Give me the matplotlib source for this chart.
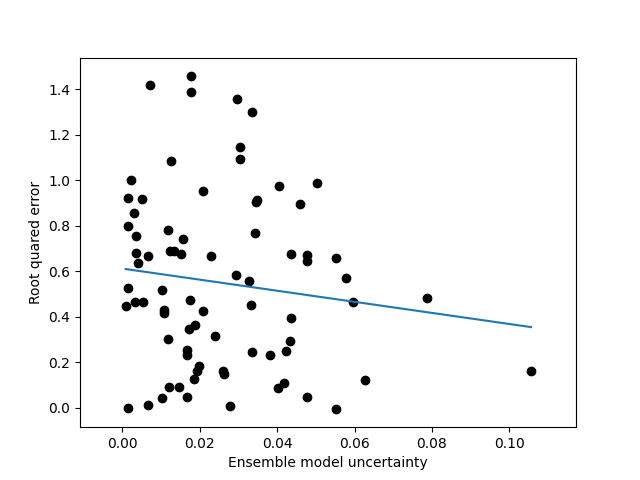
import matplotlib
matplotlib.use('Agg')
import matplotlib.pyplot as plt
import numpy as np

# ensemble uncertainty vs root squared error
uncertainty=[0.0073,0.0178,0.0178,0.0297,0.0335,0.0305,0.0305,0.0125,0.0022,0.0015,
             0.0050,0.0209,0.0406,0.0345,0.0349,0.0030,0.0015,0.0035,0.0117,0.0157,
             0.0344,0.0035,0.0066,0.0123,0.0135,0.0153,0.0230,0.0504,0.0460,0.0436,
             0.0478,0.0476,0.0551,0.0579,0.0595,0.0786,0.0436,0.0433,0.0423,0.0382,
             0.0418,0.0403,0.0477,0.0628,0.0553,0.1056,0.0040,0.0294,0.0328,0.0015,
             0.0103,0.0034,0.0053,0.0009,0.0175,0.0108,0.0108,0.0209,0.0333,0.0188,
             0.0173,0.0117,0.0239,0.0167,0.0167,0.0335,0.0199,0.0192,0.0186,0.0261,
             0.0262,0.0120,0.0146,0.0103,0.0167,0.0066,0.0279,0.0015]
error=[1.420,1.459,1.388,1.357,1.300,1.146,1.094,1.086,1.002,0.923,
       0.918,0.954,0.976,0.903,0.912,0.856,0.800,0.756,0.781,0.741,
       0.770,0.681,0.669,0.690,0.690,0.675,0.669,0.988,0.897,0.675,
       0.672,0.645,0.658,0.570,0.464,0.482,0.394,0.293,0.249,0.231,
       0.110,0.086,0.047,0.122,-0.006,0.161,0.636,0.585,0.556,0.527,
       0.518,0.464,0.464,0.448,0.473,0.431,0.415,0.426,0.453,0.364,
       0.346,0.304,0.316,0.255,0.233,0.245,0.185,0.163,0.128,0.160,
       0.150,0.092,0.092,0.044,0.048,0.012,0.007,-0.001]

# linear fit coefficients as seen in the picture
slope=-2.44
intercept=0.612

x=np.array(uncertainty)
y=np.array(error)
xx=np.array([x.min(),x.max()])

fig,ax=plt.subplots(figsize=(6.4,4.8),dpi=100)
ax.plot(x,y,'ko')
ax.plot(xx,intercept+slope*xx)
ax.set_xlim(-0.0109,0.1172)
ax.set_ylim(-0.086,1.540)
ax.set_xlabel('Ensemble model uncertainty')
ax.set_ylabel('Root quared error')
plt.savefig('out.png',dpi=100)
